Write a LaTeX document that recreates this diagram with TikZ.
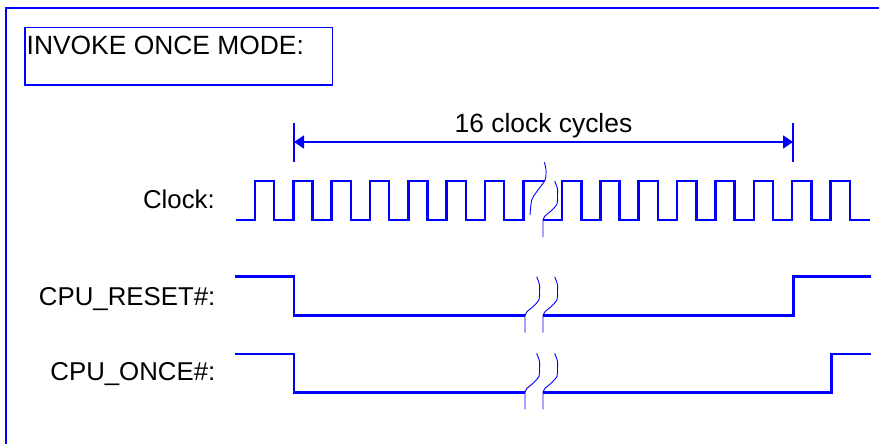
\documentclass[tikz,border=0pt]{standalone}
\usepackage{fontspec}
\setmainfont{Liberation Sans}
\usetikzlibrary{arrows.meta}
\definecolor{sigblue}{RGB}{0,0,255}
\newcommand\brkline[2]{%
  \draw[brk] plot[smooth,tension=0.5] coordinates {(#1+11.7,#2-39) (#1+14.5,#2-31) (#1+14.5,#2-24) (#1+14,#2-16) (#1+8,#2-9) (#1+2,#2-4) (#1,#2)} -- (#1,#2+17);}
\begin{document}
\begin{tikzpicture}[x=1pt,y=-1pt,
  sig/.style={draw=sigblue, line width=2.5pt, line join=miter},
  brk/.style={draw=sigblue, line width=0.9pt},
  frame/.style={draw=sigblue, line width=1.1pt},
  lbl/.style={inner sep=0pt, font=\fontsize{25.8}{30}\selectfont, anchor=base east},
  ttl/.style={inner sep=0pt, font=\fontsize{26.4}{30}\selectfont}]
\useasboundingbox (0,0) rectangle (879,444);
% outer frame
\draw[frame] (6,444) -- (6,8) -- (879,8);
% title box
\draw[frame] (25,27.3) rectangle (332.7,85);
\node[ttl, anchor=base west] (title) at (26.5,55) {INVOKE ONCE MODE:};
% dimension
\coordinate (dl) at (294,142);
\coordinate (dr) at (793,142);
\draw[frame] (294,123) -- (294,162);
\draw[frame] (793,123) -- (793,162);
\draw[sigblue, line width=1.4pt, {Triangle[length=10pt,width=13pt]}-{Triangle[length=10pt,width=13pt]}] (dl) -- (dr);
\node[ttl, anchor=base] (dim) at (543.5,132) {16 clock cycles};
% labels
\node[lbl] (lclk) at (215,208) {Clock:};
\node[lbl] (lrst) at (215.5,305) {CPU\_RESET\#:};
\node[lbl] (lonce) at (215.5,380) {CPU\_ONCE\#:};
% clock before break
\draw[sig] (236,220)
  \foreach \k in {0,...,6} { -- ({255+38.33*\k},220) -- ({255+38.33*\k},181) -- ({274.2+38.33*\k},181) -- ({274.2+38.33*\k},220) }
  -- (523.3,220) -- (523.3,181) -- (545,181);
% clock after break
\draw[sig] (543,220)
  \foreach \k in {0,...,7} { -- ({562+38.35*\k},220) -- ({562+38.35*\k},181) -- ({581.3+38.35*\k},181) -- ({581.3+38.35*\k},220) }
  -- (870,220);
% clock break lines
\draw[brk] plot[smooth,tension=0.5] coordinates {(544.3,162.3) (546,170) (545,180) (536.7,191.7) (531.7,200) (530,215)};
\brkline{543}{220}
% CPU_RESET#
\draw[sig] (235,276.7) -- (294,276.7) -- (294,315.7) -- (525,315.7);
\draw[sig] (543,315.7) -- (793.3,315.7) -- (793.3,276.7) -- (870.7,276.7);
\brkline{525}{315.7}
\brkline{543}{315.7}
% CPU_ONCE#
\draw[sig] (235,354) -- (294,354) -- (294,392.3) -- (525,392.3);
\draw[sig] (543,392.3) -- (831.7,392.3) -- (831.7,354) -- (870.7,354);
\brkline{525}{392.3}
\brkline{543}{392.3}
\end{tikzpicture}
\end{document}
